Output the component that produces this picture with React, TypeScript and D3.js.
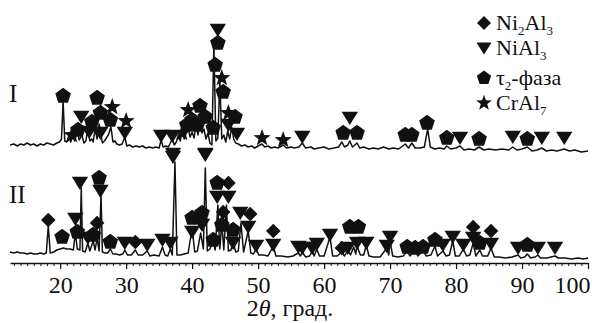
import { useEffect, useRef } from "react";
import * as d3 from "d3";

// 2θ tick labels
const tickValues = [20, 30, 40, 50, 60, 70, 80, 90, 100];

// pattern I trace [2θ, intensity] (offset upward)
const traceI: [number, number][] = [
  [12.4, 118], [13.0, 119], [13.5, 117], [14.0, 119], [14.5, 118], [15.0, 120], [15.5, 118],
  [16.0, 119], [16.5, 117], [17.0, 119], [17.5, 118], [18.0, 120], [18.5, 119], [19.0, 118],
  [19.5, 120], [19.9, 121], [20.2, 124], [20.45, 162], [20.7, 122], [21.0, 121], [21.3, 127],
  [21.6, 121], [21.9, 126], [22.2, 122], [22.6, 132], [22.9, 123], [23.3, 128], [23.6, 120],
  [23.9, 122], [24.2, 136], [24.5, 122], [24.8, 124], [25.0, 121], [25.3, 134], [25.6, 124],
  [25.9, 139], [26.2, 128], [26.4, 120], [26.7, 122], [27.0, 125], [27.3, 128], [27.7, 136],
  [28.0, 121], [28.3, 122], [28.6, 119], [29.0, 118], [29.4, 119], [29.8, 126], [30.1, 117],
  [30.5, 118], [31.0, 116], [31.5, 117], [32.0, 116], [32.5, 117], [33.0, 115], [33.5, 116],
  [34.0, 115], [34.5, 116], [35.0, 115], [35.3, 123], [35.6, 116], [36.0, 117], [36.4, 116],
  [37.0, 124], [37.3, 118], [37.6, 121], [37.9, 128], [38.2, 122], [38.5, 133], [38.8, 124],
  [39.1, 130], [39.4, 135], [39.7, 126], [40.0, 131], [40.3, 125], [40.6, 138], [40.9, 128],
  [41.2, 143], [41.5, 130], [41.8, 134], [42.1, 124], [42.4, 130], [42.7, 120], [43.0, 118],
  [43.3, 218], [43.6, 122], [43.9, 125], [44.2, 183], [44.5, 124], [44.8, 128], [45.1, 121],
  [45.4, 132], [45.7, 124], [46.0, 136], [46.3, 124], [46.6, 120], [47.0, 119], [47.5, 117],
  [48.0, 118], [48.5, 116], [49.0, 117], [49.5, 115], [50.0, 117], [50.6, 119], [51.0, 116],
  [51.5, 117], [52.0, 115], [52.5, 116], [53.0, 115], [53.8, 118], [54.3, 115], [55.0, 116],
  [55.5, 115], [56.2, 116], [56.7, 120], [57.2, 115], [58.0, 116], [58.5, 114], [59.2, 115],
  [60.0, 116], [60.7, 114], [61.5, 115], [62.2, 116], [62.7, 121], [63.1, 116], [63.6, 118],
  [63.9, 122], [64.3, 116], [65.0, 120], [65.4, 115], [66.0, 116], [66.8, 114], [67.5, 115],
  [68.2, 114], [69.0, 116], [69.8, 114], [70.5, 115], [71.3, 114], [72.3, 119], [72.8, 115],
  [73.3, 120], [73.8, 115], [74.5, 115], [75.2, 116], [75.7, 134], [76.1, 116], [76.8, 114],
  [77.5, 115], [78.2, 114], [78.6, 117], [79.2, 114], [80.0, 115], [80.6, 117], [81.2, 113],
  [82.0, 114], [82.8, 113], [83.5, 116], [84.2, 113], [85.0, 114], [86.0, 113], [87.0, 114],
  [88.0, 113], [88.6, 116], [89.2, 113], [90.0, 114], [90.8, 116], [91.5, 112], [92.3, 113],
  [93.0, 115], [93.7, 112], [94.5, 113], [95.3, 112], [96.4, 114], [97.2, 112], [98.0, 113],
  [99.0, 111], [100, 112],
];

// pattern II trace [2θ, intensity]
const traceII: [number, number][] = [
  [12.4, 11], [13, 10], [13.5, 11], [14, 10], [14.5, 10], [15, 9], [15.5, 10], [16, 9],
  [16.5, 9], [17, 10], [17.5, 9], [17.9, 10], [18.2, 37], [18.5, 10], [19, 11], [19.5, 13],
  [20, 14], [20.5, 15], [21, 14], [21.5, 14], [22, 13], [22.3, 30], [22.6, 14], [23.0, 13],
  [23.2, 75], [23.4, 12], [23.8, 11], [24.2, 20], [24.5, 12], [25.0, 22], [25.3, 13],
  [25.6, 25], [25.9, 12], [26.2, 68], [26.4, 11], [26.8, 10], [27.2, 10], [27.6, 14], [28, 9],
  [28.5, 9], [29, 8], [29.5, 9], [29.8, 13], [30.2, 8], [30.8, 8], [31.4, 13], [31.8, 8],
  [32.5, 8], [33.2, 12], [33.6, 7], [34.2, 8], [35, 7], [35.5, 16], [35.9, 8], [36.3, 7],
  [36.7, 14], [37.0, 8], [37.4, 101], [37.7, 8], [38.2, 8], [38.8, 9], [39.4, 10], [40.0, 35],
  [40.4, 11], [40.8, 12], [41.3, 30], [41.7, 14], [42.0, 95], [42.3, 12], [42.7, 14],
  [43.2, 22], [43.5, 13], [43.9, 58], [44.2, 14], [44.5, 40], [44.8, 13], [45.2, 58],
  [45.5, 12], [45.9, 13], [46.2, 22], [46.6, 11], [47.0, 12], [47.4, 40], [47.8, 11],
  [48.5, 32], [48.9, 10], [49.3, 9], [49.7, 14], [50.1, 8], [50.8, 8], [51.5, 7], [52.3, 17],
  [52.7, 7], [53.5, 7], [54.5, 6], [55.3, 7], [56.1, 10], [56.4, 7], [56.7, 11], [57.2, 6],
  [57.8, 7], [58.2, 12], [58.5, 7], [58.9, 14], [59.3, 7], [60.0, 7], [60.9, 26], [61.3, 7],
  [62.0, 7], [62.7, 11], [63.1, 7], [63.6, 13], [64.0, 8], [64.5, 16], [64.8, 9], [65.0, 17],
  [65.5, 8], [66.0, 8], [66.4, 18], [66.8, 7], [67.5, 6], [68.5, 6], [69.5, 15], [69.8, 8],
  [70.0, 22], [70.4, 7], [71.2, 6], [72.0, 7], [72.6, 12], [73.0, 7], [73.8, 13], [74.2, 7],
  [75.0, 12], [75.5, 7], [76.2, 8], [76.8, 17], [77.2, 7], [78.0, 12], [78.5, 7], [79.0, 8],
  [79.5, 22], [79.9, 7], [80.5, 7], [81.1, 14], [81.6, 7], [82.1, 8], [82.6, 20], [83.0, 7],
  [83.6, 13], [84.0, 7], [84.8, 7], [85.3, 15], [85.8, 6], [86.5, 6], [87.5, 5], [88.5, 6],
  [89.4, 8], [89.8, 5], [90.4, 6], [90.8, 9], [91.3, 5], [92.0, 6], [92.4, 8], [92.8, 5],
  [93.8, 5], [95.0, 7], [95.5, 5], [96.5, 5], [97.5, 4], [98.5, 5], [99.3, 4], [100, 5],
];

// phase markers [2θ, level, phase]  d = Ni2Al3, t = NiAl3, p = τ2, s = CrAl7
const markersI: [number, number, string][] = [
  [20.45, 167, "p"], [21.8, 128, "s"], [22.7, 133, "p"], [23.2, 146, "t"], [24.4, 131, "t"],
  [24.8, 141, "p"], [25.6, 165, "p"], [26.1, 150, "p"], [26.1, 130, "t"], [27.9, 156, "s"],
  [27.6, 143, "p"], [30.0, 142, "s"], [29.8, 130, "t"], [35.3, 127, "t"], [37.0, 127, "t"],
  [37.1, 109, "t"], [42.0, 109, "t"], [38.5, 130, "s"], [39.4, 153, "s"], [41.2, 157, "p"],
  [40.0, 143, "p"], [42.0, 146, "p"], [40.8, 138, "p"], [39.2, 138, "p"], [43.2, 135, "p"],
  [43.9, 233, "t"], [43.9, 220, "p"], [43.5, 198, "p"], [44.5, 185, "s"], [44.7, 171, "p"],
  [45.5, 150, "s"], [46.5, 146, "p"], [45.5, 138, "t"], [46.8, 129, "t"], [50.6, 125, "s"],
  [53.8, 123, "s"], [56.7, 126, "t"], [62.9, 130, "p"], [65.0, 130, "p"], [63.9, 145, "t"],
  [72.3, 128, "p"], [73.3, 128, "p"], [75.6, 140, "p"], [78.6, 125, "p"], [80.6, 125, "t"],
  [83.5, 124, "p"], [88.6, 126, "t"], [90.8, 124, "p"], [93.0, 125, "t"], [96.4, 125, "t"],
];

const markersII: [number, number, string][] = [
  [18.2, 43, "d"], [20.3, 26, "p"], [23.0, 80, "t"], [22.3, 44, "t"], [22.6, 31, "p"],
  [24.2, 25, "t"], [25.0, 28, "p"], [25.6, 40, "d"], [25.9, 85, "p"], [26.1, 72, "t"],
  [27.6, 21, "p"], [29.8, 20, "t"], [31.4, 21, "d"], [33.2, 18, "t"], [35.5, 23, "t"],
  [36.7, 20, "t"], [37.1, 106, "t"], [40.0, 45, "p"], [40.0, 31, "t"], [41.5, 50, "p"],
  [41.5, 38, "t"], [42.0, 108, "t"], [43.2, 23, "p"], [43.8, 80, "p"], [45.5, 80, "d"],
  [43.8, 66, "t"], [45.5, 66, "t"], [44.7, 51, "d"], [44.5, 38, "p"], [46.2, 33, "p"],
  [46.2, 20, "t"], [47.3, 50, "t"], [48.8, 49, "d"], [48.5, 36, "t"], [49.7, 17, "t"],
  [52.3, 32, "d"], [52.3, 18, "t"], [56.1, 16, "t"], [56.7, 15, "t"], [58.2, 15, "t"],
  [58.9, 19, "t"], [60.9, 28, "t"], [63.9, 36, "p"], [65.2, 36, "p"], [62.7, 15, "d"],
  [63.6, 15, "t"], [65.0, 20, "t"], [66.4, 20, "t"], [70.0, 26, "t"], [69.5, 17, "t"],
  [72.6, 16, "p"], [73.8, 15, "p"], [75.0, 16, "p"], [76.8, 23, "p"], [78.0, 18, "t"],
  [79.5, 26, "t"], [81.1, 18, "t"], [82.6, 36, "d"], [82.6, 25, "t"], [83.6, 20, "p"],
  [85.3, 32, "d"], [85.3, 19, "t"], [89.4, 15, "t"], [90.8, 18, "p"], [92.4, 15, "t"],
  [95.0, 15, "t"],
];

const legendPhases = ["d", "t", "p", "s"];
// text parts alternate: normal, subscript, normal, subscript
const legendLabels = [
  ["Ni", "2", "Al", "3"],
  ["NiAl", "3"],
  ["τ", "2", "-фаза"],
  ["CrAl", "7"],
];

const FONT = "'Liberation Serif', 'DejaVu Serif', serif";

function shapePath(kind: string, r: number): string {
  if (kind === "t") {
    return `M${-r},${-r * 0.75}L${r},${-r * 0.75}L0,${r * 0.85}Z`;
  }
  if (kind === "d") {
    return `M0,${-r}L${r},0L0,${r}L${-r},0Z`;
  }
  if (kind === "p") {
    const pts = d3.range(5).map((i) => {
      const a = -Math.PI / 2 + (i * 2 * Math.PI) / 5;
      return [r * Math.cos(a), r * Math.sin(a)];
    });
    return "M" + pts.map((p) => p.join(",")).join("L") + "Z";
  }
  // star
  const pts = d3.range(10).map((i) => {
    const a = -Math.PI / 2 + (i * Math.PI) / 5;
    const rr = i % 2 === 0 ? r * 1.1 : r * 0.45;
    return [rr * Math.cos(a), rr * Math.sin(a)];
  });
  return "M" + pts.map((p) => p.join(",")).join("L") + "Z";
}

export default function App() {
  const ref = useRef<SVGSVGElement>(null);

  useEffect(() => {
    if (!ref.current) return;
    const svg = d3.select(ref.current);
    svg.selectAll("*").remove();

    const x = d3.scaleLinear().domain([12.4, 100]).range([10, 588]);
    const y = d3.scaleLinear().domain([0, 260]).range([263, 3]);

    const line = d3
      .line<[number, number]>()
      .x((d) => x(d[0]))
      .y((d) => y(d[1]));

    [traceI, traceII].forEach((tr) => {
      svg
        .append("path")
        .datum(tr)
        .attr("fill", "none")
        .attr("stroke", "#111")
        .attr("stroke-width", 1.5)
        .attr("stroke-linejoin", "round")
        .attr("d", line);
    });

    // markers
    [markersI, markersII].forEach((ms) => {
      svg
        .append("g")
        .selectAll("path")
        .data(ms)
        .enter()
        .append("path")
        .attr("transform", (d) => `translate(${x(d[0])},${y(d[1])})`)
        .attr("d", (d) => shapePath(d[2], d[2] === "d" ? 7.3 : 8.2))
        .attr("fill", "#111");
    });

    // x axis: minor ticks
    const axisG = svg.append("g").attr("transform", `translate(0,${y(0)})`);
    axisG
      .append("g")
      .call(
        d3
          .axisBottom(x)
          .tickValues(d3.range(13, 101))
          .tickSize(3)
          .tickSizeOuter(0)
          .tickFormat(() => "")
      )
      .call((g) => g.select(".domain").attr("stroke-width", 1.6).attr("stroke", "#111"))
      .call((g) => g.selectAll(".tick line").attr("stroke", "#111"));

    const major = axisG
      .append("g")
      .call(
        d3
          .axisBottom(x)
          .tickValues(tickValues)
          .tickSize(6)
          .tickSizeOuter(0)
          .tickFormat(d3.format("d"))
      );
    major.select(".domain").remove();
    major.selectAll(".tick line").attr("stroke", "#111").attr("stroke-width", 1.2);
    major
      .selectAll(".tick text")
      .attr("y", 30)
      .attr("dy", 0)
      .attr("font-family", FONT)
      .attr("font-size", 24)
      .attr("fill", "#111")
      .attr("text-anchor", (d) => (d === 100 ? "end" : "middle"))
      .attr("dx", (d) => (d === 100 ? 2 : 0));

    // axis title
    const title = svg
      .append("text")
      .attr("x", 290)
      .attr("y", 316)
      .attr("text-anchor", "middle")
      .attr("font-family", FONT)
      .attr("font-size", 24)
      .attr("fill", "#111");
    title.append("tspan").text("2");
    title.append("tspan").attr("font-style", "italic").text("θ");
    title.append("tspan").text(", град.");

    // pattern labels
    svg
      .append("text")
      .attr("x", 9)
      .attr("y", 102)
      .attr("font-family", FONT)
      .attr("font-size", 25)
      .attr("fill", "#111")
      .text("I");
    svg
      .append("text")
      .attr("x", 9)
      .attr("y", 203)
      .attr("font-family", FONT)
      .attr("font-size", 25)
      .attr("fill", "#111")
      .text("II");

    // legend
    const rowY = [30, 55, 85, 110];
    legendPhases.forEach((ph, i) => {
      svg
        .append("path")
        .attr("transform", `translate(484,${rowY[i] - 7})`)
        .attr("d", shapePath(ph, ph === "d" ? 7 : 7.5))
        .attr("fill", "#111");
      const t = svg
        .append("text")
        .attr("x", 496)
        .attr("y", rowY[i])
        .attr("font-family", FONT)
        .attr("font-size", 22)
        .attr("fill", "#111");
      legendLabels[i].forEach((part, j) => {
        const sub = j % 2 === 1;
        t.append("tspan")
          .attr("font-size", sub ? 13 : 22)
          .attr("dy", sub ? 5 : j > 0 ? -5 : 0)
          .text(part);
      });
    });
  }, []);

  return (
    <div style={{ position: "fixed", left: 0, top: 0 }}>
      <svg ref={ref} width={595} height={323} style={{ display: "block", background: "#fff" }} />
    </div>
  );
}
